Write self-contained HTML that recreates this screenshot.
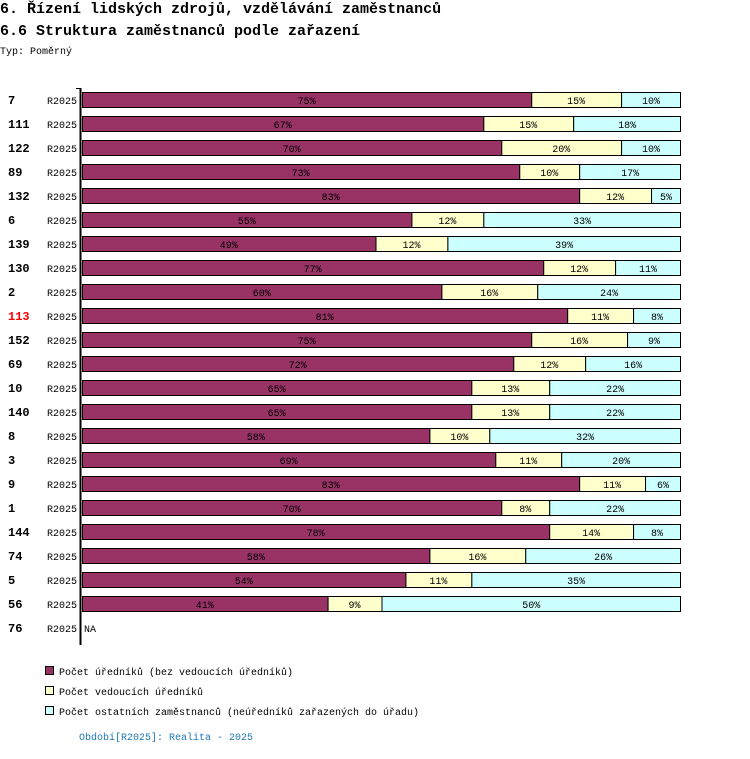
<!DOCTYPE html>
<html><head><meta charset="utf-8"><style>
body{margin:0;background:#fff;width:750px;height:754px;overflow:hidden;font-family:"Liberation Mono",monospace}
svg text{font-family:"Liberation Mono","DejaVu Sans Mono",monospace}
</style></head><body>
<svg id="c" width="750" height="754">
<text x="0" y="13" font-size="15" font-weight="bold">6. Řízení lidských zdrojů, vzdělávání zaměstnanců</text>
<text x="0" y="35" font-size="15" font-weight="bold">6.6 Struktura zaměstnanců podle zařazení</text>
<text x="0" y="54" font-size="10">Typ: Poměrný</text>
<g id="bars"></g>
<line x1="80.5" y1="88" x2="80.5" y2="645" stroke="#000" stroke-width="2"/>
<line x1="76" y1="88.5" x2="80" y2="88.5" stroke="#000"/>
<g>
<rect x="45.5" y="666.5" width="8" height="8" fill="#993366" stroke="#000"/>
<text x="59" y="675" font-size="10">Počet úředníků (bez vedoucích úředníků)</text>
<rect x="45.5" y="686.5" width="8" height="8" fill="#ffffcc" stroke="#000"/>
<text x="59" y="695" font-size="10">Počet vedoucích úředníků</text>
<rect x="45.5" y="706.5" width="8" height="8" fill="#ccffff" stroke="#000"/>
<text x="59" y="715" font-size="10">Počet ostatních zaměstnanců (neúředníků zařazených do úřadu)</text>
</g>
<text x="79" y="740" font-size="10" fill="#1f77b4">Období[R2025]: Realita - 2025</text>
</svg>
<script>
const categories=["7","111","122","89","132","6","139","130","2","113","152","69","10","140","8","3","9","1","144","74","5","56","76"];
const highlighted=["113"];
const officials=[75,67,70,73,83,55,49,77,60,81,75,72,65,65,58,69,83,70,78,58,54,41,null];
const managers=[15,15,20,10,12,12,12,12,16,11,16,12,13,13,10,11,11,8,14,16,11,9,null];
const others=[10,18,10,17,5,33,39,11,24,8,9,16,22,22,32,20,6,22,8,26,35,50,null];
const NS="http://www.w3.org/2000/svg";
const g=document.getElementById('bars');
const x0=82,W=599,y0=92,pitch=24,bh=15;
const xs=v=>v/100*W;
function mk(t,a){const e=document.createElementNS(NS,t);for(const k in a)e.setAttribute(k,a[k]);g.appendChild(e);return e;}
const fills=["#993366","#ffffcc","#ccffff"];
categories.forEach((c,i)=>{
  const y=y0+i*pitch;
  const t=mk('text',{x:8,y:y+12,'font-size':12,'font-weight':'bold',fill:highlighted.includes(c)?'#f00':'#000'});
  t.textContent=c;
  
  
  const p=mk('text',{x:47,y:y+12,'font-size':10});
  p.textContent="R2025";
  
  
  if(officials[i]==null){
    const na=mk('text',{x:84,y:y+12,'font-size':10});na.textContent="NA";
    
    
    return;
  }
  let cx=x0;
  [officials[i],managers[i],others[i]].forEach((v,j)=>{
    const w=xs(v);
    const r=mk('rect',{x:cx+0.5,y:y+0.5,width:w-1+(j==2?0:1),height:bh,fill:fills[j],stroke:'#000'});
    
    
    const tx=mk('text',{x:cx+w/2,y:y+12,'font-size':10,'text-anchor':'middle'});
    tx.textContent=v+"%";
    
    
    cx+=w;
  });
});
</script>
</body></html>
